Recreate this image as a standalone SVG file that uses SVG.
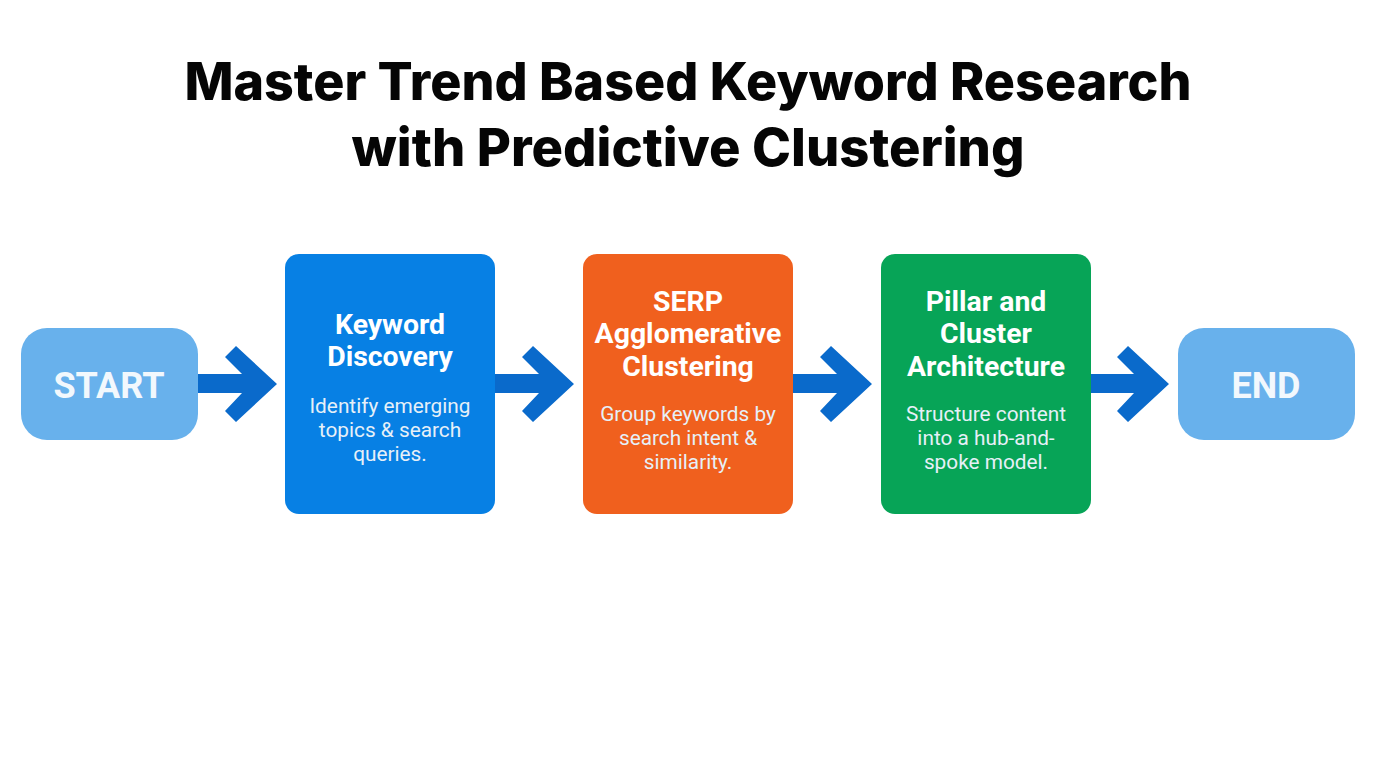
<svg xmlns="http://www.w3.org/2000/svg" width="1376" height="768" viewBox="0 0 1376 768">
<style>
text{font-family:Roboto,"Liberation Sans",sans-serif;text-anchor:middle}
.t{font-family:Inter,"Liberation Sans",sans-serif;font-size:52px;font-weight:800;fill:#050505}
.h{font-size:28.4px;font-weight:700;fill:#fff}
.b{font-size:20.8px;font-weight:400;fill:#e6f0f8}
.e{font-size:36px;font-weight:700;fill:#f2f8fd}
.a{fill:#0a6acb}
</style>
<rect width="1376" height="768" fill="#fff"/>
<g id="title"><text class="t" x="688" y="100">Master Trend Based Keyword Research</text><text class="t" x="688" y="166" style="font-size:52.5px">with Predictive Clustering</text></g>
<g id="connectors">
<path id="a1" class="a" d="M198 374H242L225 357L236 346L277 384L236 422L225 411L242 393H198Z"/>
<path id="a2" class="a" d="M495 374H539L522 357L533 346L574 384L533 422L522 411L539 393H495Z"/>
<path id="a3" class="a" d="M793 374H837L820 357L831 346L872 384L831 422L820 411L837 393H793Z"/>
<path id="a4" class="a" d="M1090 374H1134L1117 357L1128 346L1169 384L1128 422L1117 411L1134 393H1090Z"/>
</g>
<g id="start"><rect x="21" y="328" width="177" height="112" rx="26" fill="#68b1ec"/><text class="e" x="109" y="398">START</text></g>
<g id="n1"><rect x="285" y="254" width="210" height="260" rx="14" fill="#0780e4"/><text class="h" x="390" y="334">Keyword</text><text class="h" x="390" y="366">Discovery</text><text class="b" x="390" y="413">Identify emerging</text><text class="b" x="390" y="437">topics &amp; search</text><text class="b" x="390" y="461">queries.</text></g>
<g id="n2"><rect x="583" y="254" width="210" height="260" rx="14" fill="#f0601e"/><text class="h" x="688" y="311">SERP</text><text class="h" x="688" y="343">Agglomerative</text><text class="h" x="688" y="376">Clustering</text><text class="b" x="688" y="421">Group keywords by</text><text class="b" x="688" y="445">search intent &amp;</text><text class="b" x="688" y="469">similarity.</text></g>
<g id="n3"><rect x="881" y="254" width="210" height="260" rx="14" fill="#07a457"/><text class="h" x="986" y="311">Pillar and</text><text class="h" x="986" y="343">Cluster</text><text class="h" x="986" y="376">Architecture</text><text class="b" x="986" y="421">Structure content</text><text class="b" x="986" y="445">into a hub-and-</text><text class="b" x="986" y="469">spoke model.</text></g>
<g id="end"><rect x="1178" y="328" width="177" height="112" rx="26" fill="#68b1ec"/><text class="e" x="1266" y="398">END</text></g>
</svg>
